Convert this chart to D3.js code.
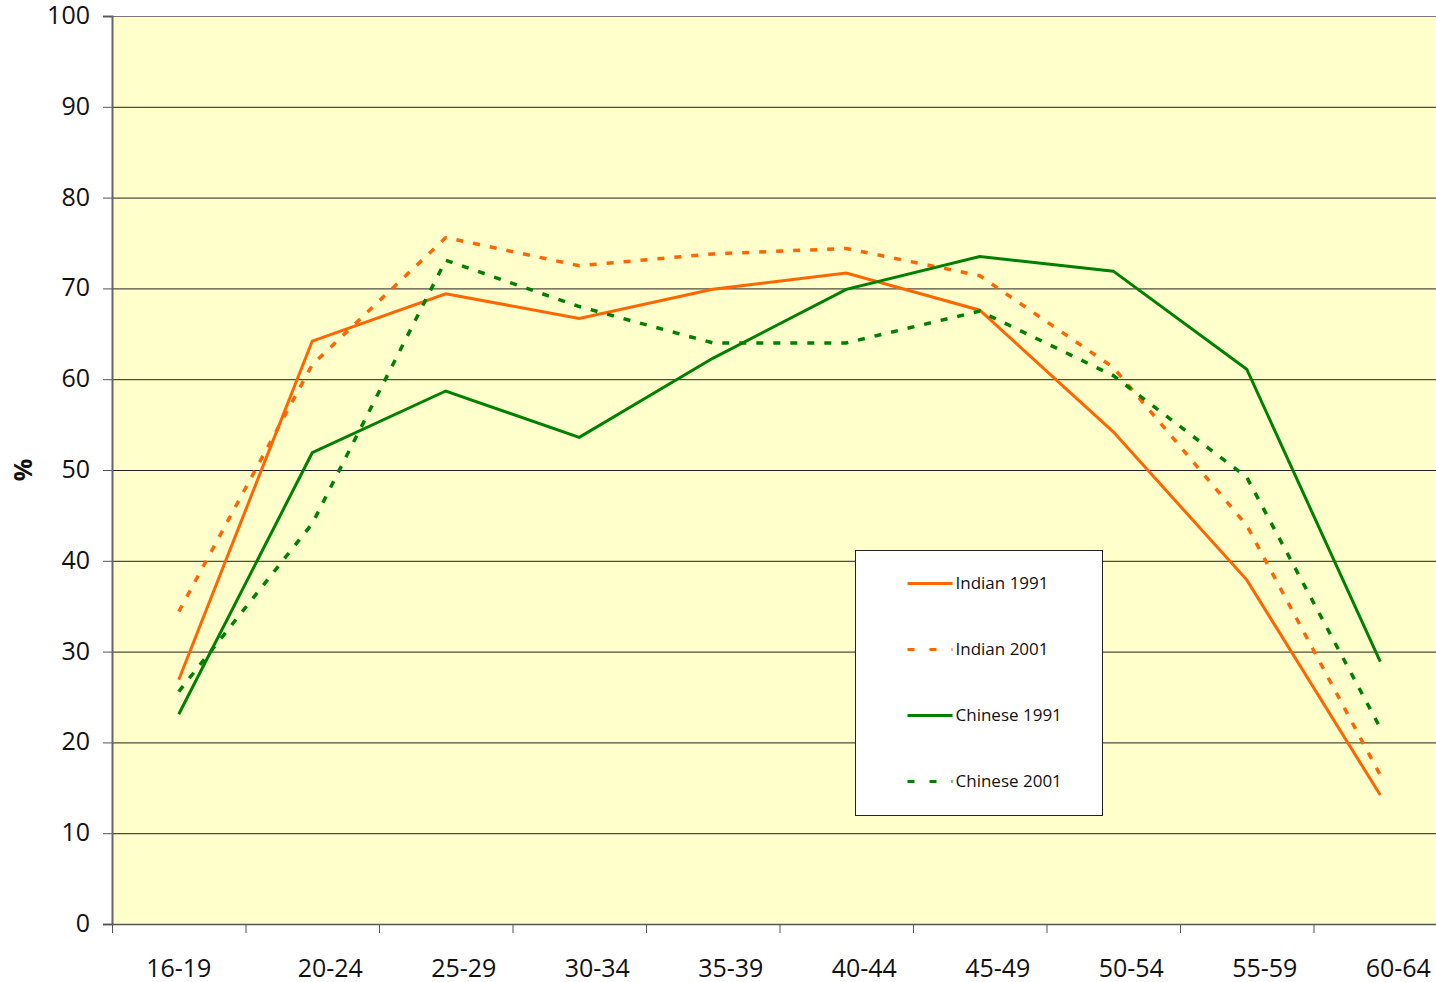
<!DOCTYPE html>
<html>
<head>
<meta charset="utf-8">
<script src="https://cdn.jsdelivr.net/npm/d3@7"></script>
<style>
  body { margin: 0; background: #fff; }
  text { font-family: "Open Sans", "Noto Sans", sans-serif; fill: #111; }
</style>
</head>
<body>
<div id="chart"></div>
<script>
// age groups along the x axis
var ageGroups = ["16-19", "20-24", "25-29", "30-34", "35-39", "40-44", "45-49", "50-54", "55-59", "60-64"];

// series values (%)
var indian1991 = [26.9, 64.2, 69.4, 66.7, 69.9, 71.7, 67.6, 54.2, 37.9, 14.2];
var indian2001 = [34.4, 61.6, 75.6, 72.5, 73.8, 74.4, 71.4, 61.3, 43.9, 16.4];
var chinese1991 = [23.1, 51.9, 58.7, 53.6, 62.3, 69.9, 73.5, 71.9, 61.1, 28.9];
var chinese2001 = [25.6, 44.1, 73.1, 68.0, 64.0, 64.0, 67.5, 60.4, 49.2, 21.6];

var yTicks = [0, 10, 20, 30, 40, 50, 60, 70, 80, 90, 100];

var series = [
  { name: "Indian 1991", values: indian1991, color: "#FF6600", dash: null },
  { name: "Indian 2001", values: indian2001, color: "#FF6600", dash: "7,10" },
  { name: "Chinese 1991", values: chinese1991, color: "#008000", dash: null },
  { name: "Chinese 2001", values: chinese2001, color: "#008000", dash: "7,10" }
];

var svgWidth = 1436;
var svgHeight = 982;

var margin = { top: 16, left: 112, bottom: 58 };
var width = 1335; // plot runs a little past the right edge
var height = svgHeight - margin.top - margin.bottom;

var svg = d3.select("#chart")
  .append("svg")
  .attr("width", svgWidth)
  .attr("height", svgHeight);

var chartGroup = svg.append("g")
  .attr("transform", `translate(${margin.left}, ${margin.top})`);

var xScale = d3.scaleBand()
  .domain(ageGroups)
  .range([0, width]);

var yScale = d3.scaleLinear()
  .domain([0, 100])
  .range([height, 0]);

// plot background
chartGroup.append("rect")
  .attr("width", width)
  .attr("height", height)
  .attr("fill", "#FFFFCC");

// gridlines
chartGroup.append("g")
  .selectAll("line")
  .data(yTicks.filter(d => d > 0))
  .enter()
  .append("line")
  .attr("x1", 0)
  .attr("x2", width)
  .attr("y1", d => yScale(d) + 0.5)
  .attr("y2", d => yScale(d) + 0.5)
  .attr("stroke", d => d === 100 ? "#777" : "#222")
  .attr("stroke-width", 1);

// y axis
var leftAxis = d3.axisLeft(yScale)
  .tickValues(yTicks)
  .tickSize(9)
  .tickPadding(13);

var yAxis = chartGroup.append("g").call(leftAxis);
yAxis.select(".domain").attr("stroke", "#666").attr("stroke-width", 2);
yAxis.selectAll(".tick line").attr("stroke", "#555");
yAxis.selectAll("text")
  .attr("font-size", "25px")
  .attr("fill", "#111")
  .attr("dy", "0.3em");

// x axis: tick marks at band boundaries
var bottomAxis = d3.axisBottom(xScale).tickSize(0).tickFormat("");
var xAxis = chartGroup.append("g")
  .attr("transform", `translate(0, ${height})`)
  .call(bottomAxis);
xAxis.select(".domain").attr("stroke", "#555").attr("stroke-width", 1.5);

xAxis.append("g")
  .selectAll("line")
  .data(ageGroups)
  .enter()
  .append("line")
  .attr("x1", d => xScale(d) + 0.5)
  .attr("x2", d => xScale(d) + 0.5)
  .attr("y1", 0)
  .attr("y2", 9)
  .attr("stroke", "#555");

// x labels
chartGroup.append("g")
  .selectAll("text")
  .data(ageGroups)
  .enter()
  .append("text")
  .attr("x", (d, i) => xScale(d) + xScale.bandwidth() / 2 + (i === 0 ? 0 : 18))
  .attr("y", height + 53)
  .attr("text-anchor", "middle")
  .attr("font-size", "25px")
  .text(d => d);

// y axis title
svg.append("text")
  .attr("transform", "translate(32, 470) rotate(-90)")
  .attr("text-anchor", "middle")
  .attr("font-size", "25px")
  .attr("font-weight", "bold")
  .text("%");

// lines
var line = d3.line()
  .x((d, i) => xScale(ageGroups[i]) + xScale.bandwidth() / 2)
  .y(d => yScale(d));

chartGroup.selectAll(".series")
  .data(series)
  .enter()
  .append("path")
  .attr("class", "series")
  .attr("d", d => line(d.values))
  .attr("fill", "none")
  .attr("stroke", d => d.color)
  .attr("stroke-width", d => d.dash ? 3.5 : 3)
  .attr("stroke-dasharray", d => d.dash);

// legend
var legend = svg.append("g")
  .attr("transform", "translate(855.5, 550.5)");

legend.append("rect")
  .attr("width", 247)
  .attr("height", 265)
  .attr("fill", "#fff")
  .attr("stroke", "#222")
  .attr("stroke-width", 1);

var legendItems = legend.selectAll(".item")
  .data(series)
  .enter()
  .append("g")
  .attr("class", "item")
  .attr("transform", (d, i) => `translate(0, ${33 + i * 66})`);

legendItems.append("line")
  .attr("x1", 52)
  .attr("x2", 97)
  .attr("stroke", d => d.color)
  .attr("stroke-width", 3)
  .attr("stroke-dasharray", d => d.dash ? "7,15" : null);

legendItems.append("text")
  .attr("x", 100)
  .attr("dy", "0.35em")
  .attr("font-size", "17px")
  .text(d => d.name);
</script>
</body>
</html>
